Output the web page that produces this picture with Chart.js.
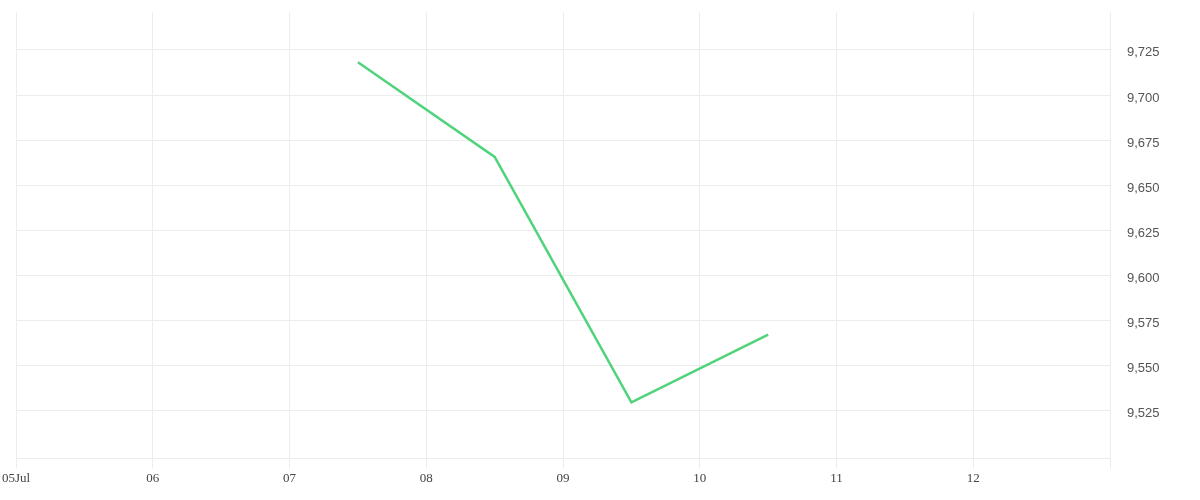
<!DOCTYPE html>
<html>
<head>
<meta charset="utf-8">
<script src="https://cdn.jsdelivr.net/npm/chart.js@4/dist/chart.umd.min.js"></script>
<style>
html,body{margin:0;padding:0;background:#fff;}
#wrap{width:1200px;height:500px;position:relative;}
</style>
</head>
<body>
<div id="wrap"><canvas id="c"></canvas></div>
<script>
// x in days of July (noon = .5)
const dayTicks = [5, 6, 7, 8, 9, 10, 11, 12, 13];
const dayLabels = ['05Jul', '06', '07', '08', '09', '10', '11', '12', ''];
const xValues = [7.5, 8.5, 9.5, 10.5];
const prices = [9718.2, 9665.7, 9529.6, 9567.2];
const yTicks = [9525, 9550, 9575, 9600, 9625, 9650, 9675, 9700, 9725];

const data = xValues.map((x, i) => ({x: x, y: prices[i]}));
const grid = '#ececec';

new Chart(document.getElementById('c'), {
  type: 'line',
  data: {
    datasets: [{
      data: data,
      borderColor: '#4fd37b',
      borderWidth: 2.5,
      pointRadius: 0,
      tension: 0,
      fill: false
    }]
  },
  options: {
    responsive: true,
    maintainAspectRatio: false,
    animation: false,
    layout: {padding: {top: 12, left: 0, right: 0, bottom: 12}},
    plugins: {legend: {display: false}, tooltip: {enabled: false}},
    scales: {
      x: {
        type: 'linear',
        min: 5, max: 13,
        afterBuildTicks: (axis) => { axis.ticks = dayTicks.map(v => ({value: v})); },
        grid: {color: grid, lineWidth: 1, tickLength: 10, drawTicks: true},
        border: {color: grid},
        ticks: {
          autoSkip: false,
          maxRotation: 0,
          padding: 2,
          color: '#444',
          font: {family: '"Liberation Serif", serif', size: 13},
          callback: (v) => { const i = dayTicks.indexOf(v); return i >= 0 ? dayLabels[i] : ''; }
        }
      },
      y: {
        position: 'right',
        min: 9498.6, max: 9746,
        afterBuildTicks: (axis) => { axis.ticks = yTicks.map(v => ({value: v})); },
        afterFit: (axis) => { axis.width = 90; axis.paddingTop = 0; axis.paddingBottom = 0; },
        grid: {color: grid, lineWidth: 1, drawTicks: false},
        border: {color: grid},
        ticks: {
          padding: 17,
          labelOffset: 3,
          color: '#555',
          font: {family: '"Liberation Sans", sans-serif', size: 13},
          callback: (v) => v.toLocaleString('en-US')
        }
      }
    }
  }
});
</script>
</body>
</html>
